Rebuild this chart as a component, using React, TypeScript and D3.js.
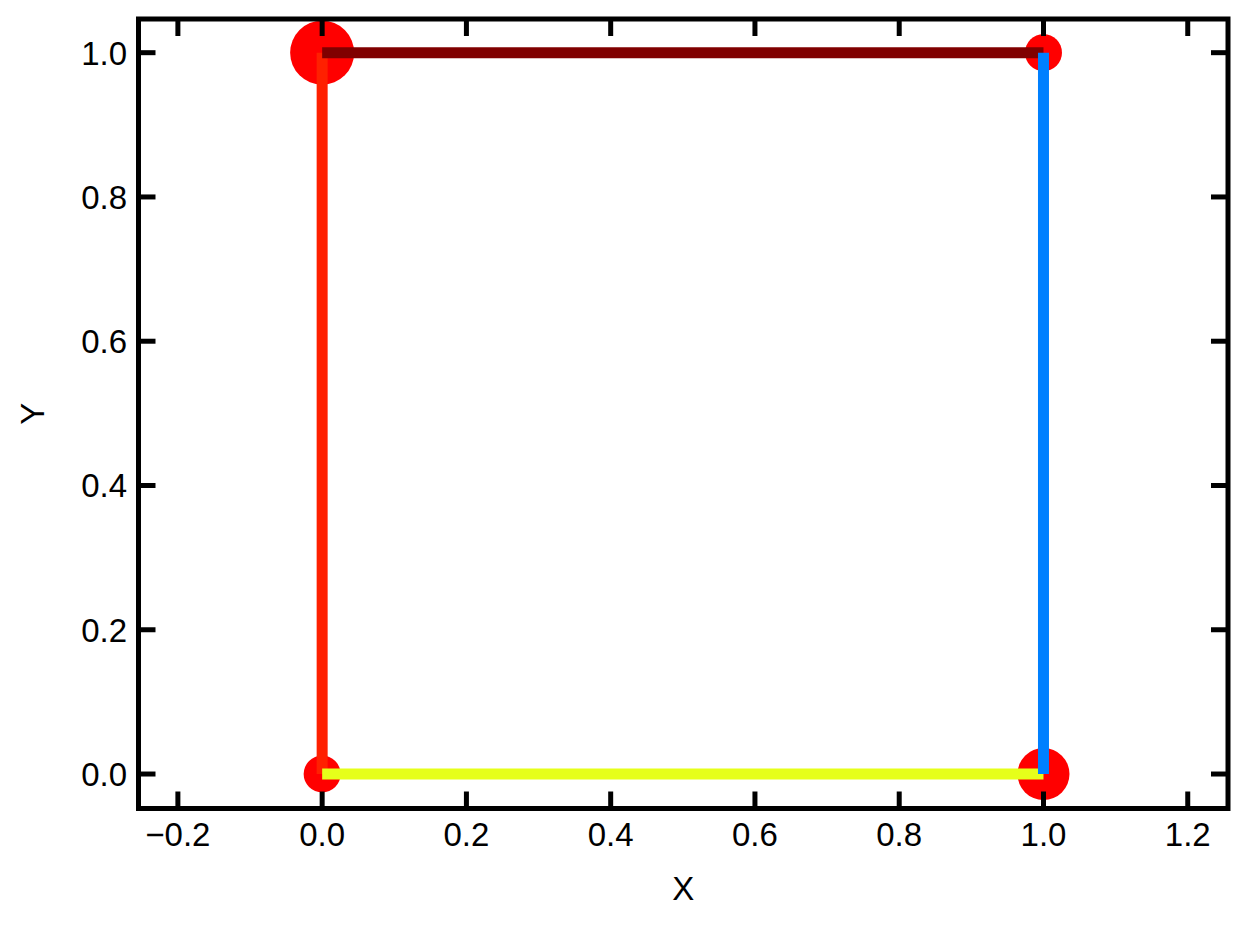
import React from "react";
import * as d3 from "d3";

const xTicks = [-0.2, 0.0, 0.2, 0.4, 0.6, 0.8, 1.0, 1.2];
const yTicks = [0.0, 0.2, 0.4, 0.6, 0.8, 1.0];

// segments
const segX1 = [0, 0, 0, 1];
const segY1 = [0, 1, 0, 1];
const segX2 = [0, 1, 1, 1];
const segY2 = [1, 1, 0, 0];
const segColors = ["#ff2000", "#800000", "#e6ff1a", "#0080ff"];

// markers
const ptX = [0, 1, 0, 1];
const ptY = [1, 1, 0, 0];
const ptSize = [32, 18.5, 18.5, 26];

export default function App() {
  const W = 1247, H = 927;
  const left = 138.5, right = 1228, top = 19, bottom = 808.5;
  const x = d3.scaleLinear().domain([-0.2546, 1.2558]).range([left, right]);
  const y = d3.scaleLinear().domain([-0.0478, 1.0467]).range([bottom, top]);
  const font = "'Liberation Sans', Arial, sans-serif";
  const fs = 33;
  const tickLen = 17;
  const fmt = d3.format(".1f");
  const fmtLabel = (v: number) => fmt(v).replace("-", "\u2212");
  return (
    <svg width={W} height={H} style={{ position: "absolute", left: 0, top: 0, background: "#fff" }}>
      <rect x={0} y={0} width={W} height={H} fill="#fff" />
      {ptX.map((px, i) => (
        <circle key={"p" + i} cx={x(px)} cy={y(ptY[i])} r={ptSize[i]} fill="#ff0000" />
      ))}
      {segX1.map((_, i) => (
        <line
          key={"s" + i}
          x1={x(segX1[i])}
          y1={y(segY1[i])}
          x2={x(segX2[i])}
          y2={y(segY2[i])}
          stroke={segColors[i]}
          strokeWidth={11}
          strokeLinecap="butt"
        />
      ))}
      {xTicks.map((t) => (
        <g key={"xt" + t}>
          <line x1={x(t)} x2={x(t)} y1={bottom} y2={bottom - tickLen} stroke="#000" strokeWidth={5} />
          <line x1={x(t)} x2={x(t)} y1={top} y2={top + tickLen} stroke="#000" strokeWidth={5} />
          <text x={x(t)} y={846} textAnchor="middle" fontFamily={font} fontSize={fs} fill="#000">
            {fmtLabel(t)}
          </text>
        </g>
      ))}
      {yTicks.map((t) => (
        <g key={"yt" + t}>
          <line x1={left} x2={left + tickLen} y1={y(t)} y2={y(t)} stroke="#000" strokeWidth={5} />
          <line x1={right} x2={right - tickLen} y1={y(t)} y2={y(t)} stroke="#000" strokeWidth={5} />
          <text x={127} y={y(t)} dy="0.36em" textAnchor="end" fontFamily={font} fontSize={fs} fill="#000">
            {fmtLabel(t)}
          </text>
        </g>
      ))}
      <rect x={left} y={top} width={right - left} height={bottom - top} fill="none" stroke="#000" strokeWidth={5} />
      <text x={(left + right) / 2} y={900} textAnchor="middle" fontFamily={font} fontSize={fs} fill="#000">X</text>
      <text
        transform={`translate(44, ${(top + bottom) / 2}) rotate(-90)`}
        textAnchor="middle"
        fontFamily={font}
        fontSize={fs}
        fill="#000"
      >
        Y
      </text>
    </svg>
  );
}
